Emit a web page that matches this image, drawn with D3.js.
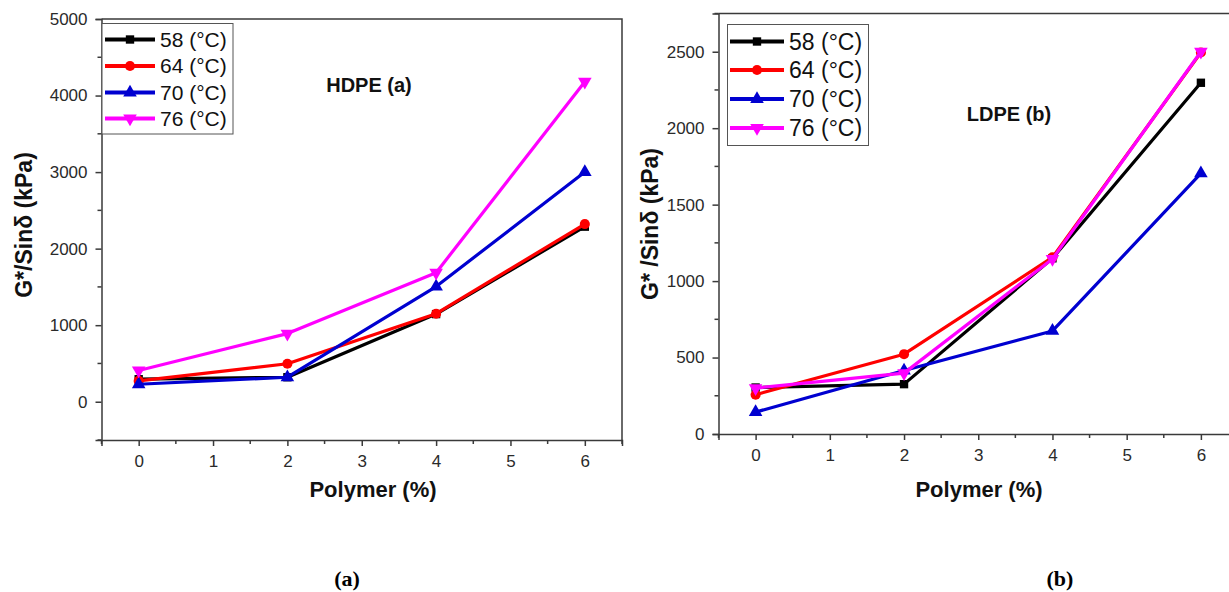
<!DOCTYPE html>
<html><head><meta charset="utf-8">
<script src="https://cdn.jsdelivr.net/npm/d3@7"></script>
<style>
html,body{margin:0;padding:0;background:#fff;}
svg{display:block;}
text{font-family:"Liberation Sans",Arial,sans-serif;}
</style></head>
<body>
<svg id="c" width="1229" height="592"></svg>
<script>
// ---- data ----
const polymer = [0, 2, 4, 6];
const seriesNames = ["58 (°C)", "64 (°C)", "70 (°C)", "76 (°C)"];
const xTickValues = [0, 1, 2, 3, 4, 5, 6];

const hdpe58 = [294, 320, 1145, 2287];
const hdpe64 = [272, 496, 1150, 2321];
const hdpe70 = [228, 320, 1505, 3000];
const hdpe76 = [408, 890, 1686, 4181];

const ldpe58 = [304, 326, 1149, 2297];
const ldpe64 = [257, 522, 1155, 2495];
const ldpe70 = [143, 415, 674, 1704];
const ldpe76 = [300, 398, 1145, 2500];

const hdpeYTicks = [0, 1000, 2000, 3000, 4000, 5000];
const ldpeYTicks = [0, 500, 1000, 1500, 2000, 2500];

// ---- style ----
const colors = ["#000000", "#ff0000", "#0000d0", "#ff00ff"];
const symbols = [d3.symbolSquare, d3.symbolCircle, d3.symbolTriangle, d3.symbolTriangle];
const symRot = [0, 0, 0, 180];
const symSize = [70, 80, 80, 80];

const svg = d3.select("#c");
svg.append("rect").attr("width", 1229).attr("height", 592).attr("fill", "#fff");

function panel(cfg) {
  const g = svg.append("g");
  const x = d3.scaleLinear().domain([-0.5, 6.5]).range([cfg.left, cfg.right]);
  const y = d3.scaleLinear().domain(cfg.yDomain).range([cfg.bottom, cfg.top]);
  const axisColor = "#3a3a3a";

  // frame (top, right)
  g.append("path")
    .attr("d", `M${cfg.left},${cfg.top}H${cfg.right}V${cfg.bottom}`)
    .attr("fill", "none").attr("stroke", axisColor).attr("stroke-width", 1.5);

  // x axis
  const xMinor = d3.range(-0.5, 6.51, 1);
  const xAx = g.append("g").attr("transform", `translate(0,${cfg.bottom})`)
    .call(d3.axisBottom(x).tickValues(xTickValues).tickSize(6).tickPadding(9).tickFormat(d3.format("d")));
  xAx.select(".domain").attr("stroke", axisColor).attr("stroke-width", 1.5);
  xAx.selectAll(".tick line").attr("stroke", axisColor).attr("stroke-width", 1.5);
  xAx.selectAll(".tick text").attr("font-size", cfg.tickFont).attr("fill", "#2a2a2a")
    .attr("font-family", "Liberation Sans, Arial, sans-serif");
  xAx.selectAll(".minor").data(xMinor).enter().append("line").attr("class", "minor")
    .attr("x1", d => x(d)).attr("x2", d => x(d)).attr("y1", 0).attr("y2", 4)
    .attr("stroke", axisColor).attr("stroke-width", 1.5);

  // y axis
  const yAx = g.append("g").attr("transform", `translate(${cfg.left},0)`)
    .call(d3.axisLeft(y).tickValues(cfg.yTicks).tickSize(6).tickPadding(8).tickFormat(d3.format("d")));
  yAx.select(".domain").attr("stroke", axisColor).attr("stroke-width", 1.5);
  yAx.selectAll(".tick line").attr("stroke", axisColor).attr("stroke-width", 1.5);
  yAx.selectAll(".tick text").attr("font-size", cfg.tickFont).attr("fill", "#2a2a2a")
    .attr("font-family", "Liberation Sans, Arial, sans-serif");
  const yMinor = d3.range(cfg.yDomain[0], cfg.yDomain[1] + 1, cfg.yMinorStep)
    .filter(v => cfg.yTicks.indexOf(v) < 0);
  yAx.selectAll(".minor").data(yMinor).enter().append("line").attr("class", "minor")
    .attr("x1", 0).attr("x2", -4).attr("y1", d => y(d)).attr("y2", d => y(d))
    .attr("stroke", axisColor).attr("stroke-width", 1.5);

  // lines
  const line = d3.line().x((d, i) => x(polymer[i])).y(d => y(d));
  cfg.series.forEach((vals, si) => {
    g.append("path").datum(vals).attr("d", line).attr("fill", "none")
      .attr("stroke", colors[si]).attr("stroke-width", 3.2).attr("stroke-linejoin", "round");
    g.selectAll(null).data(vals).enter().append("path")
      .attr("d", d3.symbol().type(symbols[si]).size(symSize[si]))
      .attr("transform", (d, i) => `translate(${x(polymer[i])},${y(d)}) rotate(${symRot[si]})`)
      .attr("fill", colors[si]);
  });

  // legend
  const lg = g.append("g");
  lg.append("rect").attr("x", cfg.legend.x).attr("y", cfg.legend.y)
    .attr("width", cfg.legend.w).attr("height", cfg.legend.h)
    .attr("fill", "#fff").attr("stroke", "#555").attr("stroke-width", 1);
  seriesNames.forEach((name, si) => {
    const ry = cfg.legend.rowY[si];
    lg.append("line").attr("x1", cfg.legend.lx1).attr("x2", cfg.legend.lx2)
      .attr("y1", ry).attr("y2", ry).attr("stroke", colors[si]).attr("stroke-width", 4);
    lg.append("path").attr("d", d3.symbol().type(symbols[si]).size(symSize[si]))
      .attr("transform", `translate(${(cfg.legend.lx1 + cfg.legend.lx2) / 2},${ry}) rotate(${symRot[si]})`)
      .attr("fill", colors[si]);
    lg.append("text").attr("x", cfg.legend.tx).attr("y", ry).attr("dy", "0.35em")
      .attr("font-size", cfg.legend.font).attr("fill", "#111").text(name);
  });

  // inner label
  g.append("text").attr("x", cfg.label.x).attr("y", cfg.label.y).attr("text-anchor", "middle")
    .attr("font-size", cfg.label.font).attr("font-weight", "bold").attr("fill", "#111").text(cfg.label.text);

  // axis titles
  g.append("text").attr("x", cfg.xTitle.x).attr("y", cfg.xTitle.y).attr("text-anchor", "middle")
    .attr("font-size", 22).attr("font-weight", "bold").attr("fill", "#111").text("Polymer (%)");
  g.append("text").attr("transform", `translate(${cfg.yTitle.x},${cfg.yTitle.y}) rotate(-90)`)
    .attr("text-anchor", "middle").attr("dy", "0.35em")
    .attr("font-size", 23).attr("font-weight", "bold").attr("fill", "#111").text(cfg.yTitle.text);

  // caption
  svg.append("text").attr("x", cfg.caption.x).attr("y", 586).attr("text-anchor", "middle")
    .attr("font-size", 22).attr("font-weight", "bold").attr("fill", "#000")
    .style("font-family", "'Liberation Serif',serif")
    .text(cfg.caption.text);
}

panel({
  left: 101.5, right: 622, top: 19, bottom: 440,
  yDomain: [-500, 5000], yTicks: hdpeYTicks, yMinorStep: 500, tickFont: 17,
  series: [hdpe58, hdpe64, hdpe70, hdpe76],
  legend: { x: 102, y: 23.5, w: 131, h: 110.5, rowY: [39.5, 66, 92.5, 118.5], lx1: 105, lx2: 155, tx: 160, font: 21 },
  label: { x: 369, y: 92, font: 20, text: "HDPE (a)" },
  xTitle: { x: 373, y: 497 },
  yTitle: { x: 24, y: 225, text: "G*/Sinδ (kPa)" },
  caption: { x: 347, text: "(a)" }
});

panel({
  left: 718.5, right: 1238, top: 13.5, bottom: 434,
  yDomain: [0, 2750], yTicks: ldpeYTicks, yMinorStep: 250, tickFont: 17,
  series: [ldpe58, ldpe64, ldpe70, ldpe76],
  legend: { x: 727.5, y: 24.5, w: 141, h: 121, rowY: [41.5, 70, 99, 128], lx1: 730, lx2: 784, tx: 789, font: 23 },
  label: { x: 1009, y: 121, font: 20, text: "LDPE (b)" },
  xTitle: { x: 979, y: 497 },
  yTitle: { x: 650, y: 224, text: "G* /Sinδ (kPa)" },
  caption: { x: 1060, text: "(b)" }
});
</script>
</body></html>
